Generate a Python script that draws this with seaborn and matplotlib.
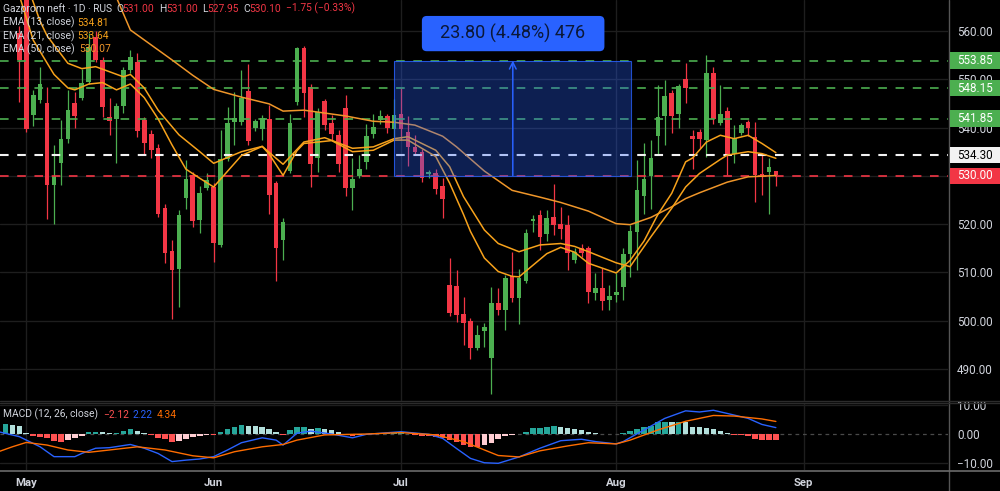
import numpy as np
import pandas as pd
import matplotlib.pyplot as plt
import matplotlib.patches as mpatches
import matplotlib.transforms as mtransforms
from matplotlib.lines import Line2D
import seaborn as sns

sns.set_theme(style="dark")
plt.rcParams["font.family"] = ["Roboto", "DejaVu Sans"]

W, H = 1000, 491

## DATA (bar index, -2 .. 109)
bar = list(range(-2, 110))
opens = [576.0, 571.0, 559.5, 568.0, 542.6, 545.8, 545.0, 528.2, 532.7, 537.6,
         545.1, 546.2, 549.5, 558.7, 553.9, 542.2, 541.7, 544.4, 552.0, 553.6,
         541.5, 538.6, 535.7, 523.4, 514.5, 510.8, 525.5, 530.1, 520.8, 527.4,
         527.7, 515.7, 533.4, 541.2, 541.2, 547.5, 539.9, 539.8, 541.7, 528.6,
         516.8, 531.0, 545.3, 556.4, 548.4, 533.8, 545.5, 541.0, 538.4, 544.0,
         527.5, 530.0, 532.9, 538.6, 541.5, 542.4, 539.8, 542.8, 539.1, 536.0,
         535.0, 530.3, 530.5, 527.9, 507.4, 507.3, 501.4, 499.9, 494.4, 497.8,
         492.3, 503.6, 502.3, 509.2, 504.8, 508.2, 520.7, 521.9, 517.9, 521.5,
         520.1, 519.8, 512.5, 515.1, 515.0, 505.8, 506.8, 504.3, 505.3, 507.0,
         513.8, 518.4, 525.9, 530.0, 538.3, 542.4, 547.1, 542.8, 550.0, 538.3,
         539.0, 537.5, 551.3, 541.0, 543.5, 534.6, 538.9, 541.2, 538.1, 530.4,
         530.8, 531.0]
highs = [578.0, 573.0, 561.0, 570.0, 547.7, 552.6, 548.4, 536.4, 541.5, 547.7,
         547.4, 552.2, 559.5, 560.0, 554.5, 546.1, 545.0, 552.5, 556.0, 555.5,
         542.2, 539.5, 536.5, 524.1, 516.7, 523.0, 533.3, 530.8, 528.0, 530.5,
         528.5, 539.5, 544.3, 547.4, 552.0, 553.1, 541.8, 542.5, 544.6, 529.0,
         521.2, 542.9, 556.7, 556.9, 549.0, 544.0, 546.0, 542.6, 539.5, 546.7,
         533.6, 534.3, 540.8, 542.9, 543.6, 542.9, 546.0, 548.1, 542.4, 538.5,
         535.5, 531.2, 531.5, 529.5, 513.1, 510.5, 505.0, 500.5, 499.1, 499.5,
         507.0, 506.7, 509.5, 514.3, 510.8, 519.1, 521.9, 522.9, 522.9, 528.4,
         523.5, 521.9, 515.0, 515.8, 515.5, 509.9, 511.0, 507.4, 509.8, 515.0,
         519.8, 533.3, 536.8, 537.4, 548.8, 549.8, 547.8, 549.0, 553.3, 539.5,
         539.6, 555.0, 552.6, 548.8, 544.3, 540.5, 541.0, 541.5, 541.2, 534.6,
         533.6, 531.0]
lows = [569.0, 567.0, 545.3, 539.1, 540.3, 545.0, 521.0, 520.1, 528.2, 536.7,
        540.0, 545.7, 549.0, 553.5, 542.2, 538.4, 532.6, 543.0, 551.2, 538.1,
        534.6, 533.6, 521.5, 512.0, 500.3, 502.9, 523.2, 519.5, 518.2, 527.0,
        512.2, 515.2, 533.0, 536.4, 540.5, 536.4, 539.2, 537.4, 522.2, 508.3,
        512.5, 530.5, 544.6, 542.2, 527.7, 530.8, 539.5, 537.5, 530.8, 525.8,
        522.9, 529.5, 531.5, 537.8, 540.8, 538.9, 538.1, 537.4, 532.0, 534.6,
        528.8, 529.6, 526.2, 521.3, 501.0, 499.8, 494.9, 492.0, 494.0, 494.6,
        484.9, 501.2, 498.1, 503.9, 499.4, 507.8, 518.4, 514.6, 516.5, 517.7,
        517.0, 510.5, 512.0, 513.3, 503.6, 504.3, 502.2, 502.2, 503.9, 504.3,
        509.1, 510.5, 522.2, 523.2, 534.6, 536.4, 538.9, 540.0, 545.0, 531.5,
        535.7, 533.9, 540.8, 540.5, 530.1, 532.6, 538.5, 538.2, 524.6, 526.0,
        522.1, 527.95]
closes = [571.0, 569.0, 554.0, 539.8, 546.7, 549.1, 528.2, 529.9, 537.6, 543.7,
          542.4, 549.2, 556.6, 553.9, 544.3, 541.4, 544.4, 551.9, 554.5, 539.3,
          536.9, 535.3, 522.2, 514.1, 510.6, 522.0, 529.3, 520.7, 526.5, 529.1,
          516.0, 533.4, 541.0, 541.9, 546.2, 537.2, 541.3, 541.9, 526.1, 515.1,
          520.5, 541.0, 556.4, 547.2, 532.4, 543.3, 540.5, 538.6, 532.4, 527.5,
          529.3, 531.5, 538.3, 540.1, 542.4, 539.9, 542.6, 539.6, 536.0, 535.0,
          529.5, 530.8, 527.2, 525.3, 501.6, 501.2, 499.6, 494.4, 497.0, 498.8,
          503.6, 502.3, 508.9, 504.8, 508.9, 518.2, 521.1, 517.4, 521.3, 519.8,
          519.1, 514.1, 514.3, 514.1, 506.0, 506.7, 504.1, 505.2, 506.0, 513.8,
          518.6, 527.0, 529.3, 533.6, 542.2, 546.5, 542.4, 548.6, 548.1, 537.6,
          537.6, 551.3, 541.7, 542.8, 534.6, 537.9, 540.5, 540.0, 530.1, 530.0,
          531.9, 530.10]

month_bars = [1, 28, 55, 86, 113]
month_labels = ["May", "Jun", "Jul", "Aug", "Sep"]

# EMA lines at sample bars
e13_bar = [-1, 2, 5, 7, 8, 10, 12, 14, 16, 18, 20, 22, 24, 26, 28, 32, 35, 36, 38, 40,
           41, 45, 48, 51, 54, 56, 60, 62, 64, 65, 67, 69, 71, 72, 74, 76, 78, 80, 82, 86,
           88, 90, 92, 94, 96, 97, 99, 101, 103, 105, 107, 109]
e13_val = [572.0, 558.1, 551.0, 548.2, 547.8, 549.0, 549.3, 547.8, 549.0, 546.2,
           541.8, 536.4, 531.4, 529.5, 527.7, 534.2, 536.1, 534.5, 530.1, 535.2,
           536.7, 537.3, 535.0, 535.3, 537.4, 537.4, 534.0, 528.5, 522.0, 518.5,
           513.0, 510.2, 509.2, 509.1, 511.5, 513.9, 515.2, 514.2, 511.9, 509.9,
           512.5, 516.5, 522.0, 526.4, 532.9, 533.7, 537.0, 538.4, 537.7, 538.4,
           536.7, 534.81]
e21_bar = [1, 3, 4, 7, 9, 11, 15, 16, 18, 20, 23, 26, 28, 32, 35, 38, 41, 44, 48, 51,
           54, 56, 60, 62, 64, 67, 69, 72, 75, 78, 80, 82, 86, 88, 91, 94, 96, 98, 101,
           102, 105, 107, 109]
e21_val = [570.0, 562.0, 559.0, 553.3, 552.2, 552.6, 550.5, 551.0, 548.2, 543.6,
           538.5, 535.0, 532.6, 535.0, 536.1, 532.4, 537.0, 537.9, 535.7, 536.0,
           537.7, 538.1, 535.3, 531.9, 525.7, 518.8, 516.0, 514.3, 515.7, 516.0,
           515.4, 514.3, 512.0, 511.2, 517.4, 523.3, 527.7, 530.5, 533.4, 534.3,
           535.0, 534.6, 533.64]
e50_bar = [12, 14, 16, 22, 25, 28, 32, 36, 38, 41, 44, 47, 51, 54, 57, 61, 63, 67, 71,
           75, 78, 82, 86, 88, 91, 94, 96, 98, 102, 105, 109]
e50_val = [571.0, 566.9, 560.2, 554.0, 550.8, 547.9, 546.3, 544.9, 543.4, 543.6,
           543.0, 542.4, 541.3, 541.1, 540.5, 538.2, 536.0, 531.0, 527.0, 525.6,
           524.5, 522.7, 520.1, 519.9, 521.4, 523.6, 525.3, 526.5, 528.7, 529.8,
           530.07]

# MACD panel
hist = [3.6, 3.2, 2.8, 0.5, -0.6, -1.0, -1.5, -2.4, -2.9, -2.1,
        -1.5, -0.7, 0.6, 0.8, 0.6, 0.4, 0.5, 1.0, 1.6, 0.9,
        0.3, -0.3, -1.3, -1.8, -2.9, -2.3, -1.6, -1.1, -0.7, -0.3,
        -0.4, 0.8, 1.6, 2.3, 3.1, 2.9, 2.8, 2.3, 1.6, 0.6,
        -0.2, 1.4, 2.3, 2.5, 1.9, 2.0, 1.6, 1.4, 0.8, -0.3,
        -0.6, -0.5, 0.1, 0.3, 0.5, 0.5, 0.6, 0.6, -0.1, -0.3,
        -0.6, -0.8, -1.0, -1.3, -2.1, -2.9, -3.8, -4.4, -4.4, -3.8,
        -3.2, -1.8, -0.8, -0.3, 0.1, 0.8, 2.0, 2.2, 2.5, 2.6,
        2.5, 2.0, 1.6, 1.5, 0.6, 0.2, -0.1, -0.1, -0.1, 0.3,
        1.0, 1.7, 2.4, 2.9, 4.0, 4.3, 4.2, 4.3, 4.0, 2.5,
        2.3, 2.2, 1.6, 1.0, 0.2, -0.3, -0.3, -0.6, -1.8, -2.1,
        -2.1, -2.12]
macd_bar = [-3, 0, 3, 5, 8, 9, 11, 13, 16, 18, 20, 22, 24, 26, 28, 30, 32, 35, 37, 38,
            39, 40, 42, 45, 48, 50, 55, 59, 61, 63, 65, 67, 69, 72, 75, 78, 81, 83, 86,
            87, 90, 93, 96, 98, 100, 102, 105, 107, 109]
macd_val = [0.8, -0.9, -4.4, -7.8, -7.8, -6.7, -4.9, -4.7, -3.6, -4.9, -6.7, -9.5,
            -9.0, -8.6, -7.8, -5.5, -3.0, -1.3, -2.1, -3.8, -1.8, 0.3, 1.0, 0.0, -1.3,
            -0.1, 0.8, -0.1, -1.5, -5.0, -8.4, -9.9, -10.1, -7.9, -4.9, -2.3, -1.8,
            -2.6, -3.4, -2.6, 1.4, 5.4, 8.0, 7.6, 8.2, 7.1, 5.4, 3.3, 2.22]
sig_bar = [-3, -1, 1, 4, 7, 10, 13, 17, 21, 25, 28, 31, 35, 38, 40, 44, 50, 55, 60, 64,
           69, 72, 75, 79, 82, 86, 88, 92, 96, 100, 103, 107, 109]
sig_val = [-6.1, -4.4, -2.9, -3.8, -5.5, -6.3, -5.5, -4.4, -5.5, -7.5, -8.2, -6.1,
           -4.4, -3.6, -2.1, -0.3, 0.0, 0.5, -0.3, -2.6, -7.4, -7.9, -5.8, -4.1,
           -3.0, -3.4, -2.1, 1.4, 4.4, 6.4, 6.2, 5.2, 4.34]

# drawn price levels and the price-range measurement
levels = [553.85, 548.15, 541.85, 534.30, 530.00]
level_kind = ["green", "green", "green", "white", "red"]
measure_from, measure_to = 54.0, 88.2
measure_low, measure_high = 530.05, 553.85
measure_label = "23.80 (4.48%) 476"

assert len(opens) == len(highs) == len(lows) == len(closes) == len(bar) == len(hist)

## STYLE
BG = "black"
GRID = "#1e1e1e"
TXT = "#d1d4dc"
UP, DOWN = "#4caf50", "#f23645"
ORANGE, ORANGE50 = "#f7a21b", "#ef962a"
LEVEL_COL = {"green": "#4caf50", "white": "#f2f2f2", "red": "#f23645"}
LEVEL_TXT = {"green": "white", "white": "black", "red": "white"}

df = pd.DataFrame({"bar": bar, "open": opens, "high": highs, "low": lows, "close": closes})
df["color"] = np.where(df["close"] >= df["open"], UP, DOWN)

fig = plt.figure(figsize=(W / 100, H / 100), dpi=100)
fig.patch.set_facecolor(BG)
ax = fig.add_axes([0, 1 - 401 / H, 948 / W, 401 / H])
ax2 = fig.add_axes([0, 1 - 470 / H, 948 / W, 67 / H])

for a in (ax, ax2):
    a.set_facecolor(BG)
    for s in a.spines.values():
        s.set_visible(False)
    a.set_xlim(-2.78, 133.8)
    a.set_xticks(month_bars)
    a.grid(axis="x", color=GRID, linewidth=1)

## PRICE PANEL
ax.set_ylim(483.4, 566.4)
ax.set_yticks(range(490, 561, 10))
ax.yaxis.set_major_formatter(lambda v, p: f"{v:.2f}")
ax.grid(axis="y", color=GRID, linewidth=1)
ax.yaxis.tick_right()
ax.tick_params(axis="y", length=0, pad=6.5, labelsize=8.4, labelcolor=TXT)
ax.tick_params(axis="x", length=0, labelbottom=False)

ax.vlines(df["bar"], df["low"], df["high"], colors=df["color"], linewidth=0.9, zorder=2)
body = (df["close"] - df["open"]).abs().clip(lower=0.25)
ax.bar(df["bar"], body, bottom=df[["open", "close"]].min(axis=1), width=0.68,
       color=df["color"], linewidth=0, zorder=2)

for lvl, kind in zip(levels, level_kind):
    lw = 1.5 if kind == "white" else 1.2
    ax.axhline(lvl, color=LEVEL_COL[kind], lw=lw, dashes=(6.2 / lw, 6.2 / lw), zorder=3)

sns.lineplot(x=e50_bar, y=e50_val, ax=ax, color=ORANGE50, linewidth=1.1, zorder=4)
sns.lineplot(x=e21_bar, y=e21_val, ax=ax, color=ORANGE, linewidth=1.1, zorder=4)
sns.lineplot(x=e13_bar, y=e13_val, ax=ax, color=ORANGE, linewidth=1.1, zorder=4)

# measurement box
ax.add_patch(mpatches.Rectangle((measure_from, measure_low), measure_to - measure_from,
                                measure_high - measure_low, facecolor="#2962ff", alpha=0.32,
                                edgecolor="none", zorder=6))
ax.add_patch(mpatches.Rectangle((measure_from, measure_low), measure_to - measure_from,
                                measure_high - measure_low, facecolor="none",
                                edgecolor="#2962ff", lw=0.8, alpha=0.8, zorder=6))
mid = (measure_from + measure_to) / 2
ax.annotate("", xy=(mid, measure_high), xytext=(mid, measure_low),
            arrowprops=dict(arrowstyle="->", color="#2962ff", lw=1.1, shrinkA=0, shrinkB=0),
            zorder=7)
ax.add_patch(mpatches.FancyBboxPatch((58.0, 555.8), 26.3, 7.3,
                                     boxstyle="round,pad=0,rounding_size=0.7",
                                     mutation_aspect=1.44, facecolor="#2962ff",
                                     edgecolor="none", zorder=7))
ax.text(mid, 559.45, measure_label, ha="center", va="center", fontsize=13,
        color="#0b1838", zorder=8)

# price labels on the axis (they sit over the tick labels, as in the app)
blend = mtransforms.blended_transform_factory(fig.transFigure, ax.transData)
for lvl, kind in zip(levels, level_kind):
    fig.add_artist(mpatches.Rectangle((950 / W, lvl - 1.7), 50 / W, 3.4, transform=blend,
                                      facecolor=LEVEL_COL[kind], edgecolor="none", zorder=5))
    fig.text(957 / W, lvl, f"{lvl:.2f}", transform=blend, ha="left", va="center",
             fontsize=8.4, color=LEVEL_TXT[kind], zorder=6)

## MACD PANEL
h = np.array(hist)
prev = np.r_[h[0], h[:-1]]
hcol = np.where(h >= 0, np.where(h >= prev, "#26a69a", "#b2dfdb"),
                np.where(h <= prev, "#ff5252", "#ffcdd2"))
ax2.set_ylim(-12.4, 10.7)
ax2.axhline(10, color=GRID, lw=1)
ax2.axhline(-10, color=GRID, lw=1)
ax2.axhline(0, color="#4a4a4a", lw=0.9, dashes=(3, 3))
ax2.bar(bar, h, width=0.8, color=hcol, linewidth=0, zorder=2)
sns.lineplot(x=macd_bar, y=macd_val, ax=ax2, color="#2962ff", linewidth=1.0, zorder=3)
sns.lineplot(x=sig_bar, y=sig_val, ax=ax2, color="#ff6d00", linewidth=1.0, zorder=3)
ax2.set_yticks([-10, 0, 10])
ax2.yaxis.set_major_formatter(lambda v, p: f"{v:.2f}".replace("-", "\u2212"))
ax2.yaxis.tick_right()
ax2.tick_params(axis="y", length=0, pad=6.5, labelsize=8.4, labelcolor=TXT)
ax2.set_xticklabels(month_labels)
ax2.tick_params(axis="x", length=0, pad=5.5, labelsize=8.2, labelcolor=TXT)
for t in ax2.get_xticklabels():
    t.set_fontweight("bold")
ax.set_xlabel("")
ax2.set_xlabel("")

## SEPARATORS
fig.add_artist(Line2D([948.5 / W] * 2, [0, 1], color="#555555", lw=1))
fig.add_artist(Line2D([0, 1], [1 - 400.5 / H] * 2, color="#2c2c2c", lw=1))
fig.add_artist(Line2D([0, 1], [1 - 403 / H] * 2, color="#2c2c2c", lw=1))
fig.add_artist(Line2D([0, 1], [1 - 470.5 / H] * 2, color="#6a6a6a", lw=1.2))


## LEGENDS
def ftext(x, y, s, color, size=7.4):
    fig.text(x / W, 1 - y / H, s, color=color, fontsize=size, ha="left", va="center", zorder=9)


ftext(3, 8.5, "Gazprom neft \u00b7 1D \u00b7 RUS", TXT)
for x, s, c in [(116, "O", TXT), (122.5, "531.00", DOWN), (159, "H", TXT), (166, "531.00", DOWN),
                (202, "L", TXT), (207.5, "527.95", DOWN), (243, "C", TXT), (249.5, "530.10", DOWN),
                (286, "\u22121.75 (\u22120.33%)", DOWN)]:
    ftext(x, 8.5, s, c)
ftext(3, 22.5, "EMA (13, close)", TXT)
ftext(77.5, 22.5, "534.81", ORANGE)
ftext(3, 36, "EMA (21, close)", TXT)
ftext(77.5, 36, "533.64", ORANGE)
ftext(3, 49.5, "EMA (50, close)", TXT)
ftext(79, 49.5, "530.07", ORANGE50)
ftext(3, 414.5, "MACD (12, 26, close)", TXT)
ftext(103, 414.5, "\u22122.12", "#ff5252")
ftext(132.5, 414.5, "2.22", "#2962ff")
ftext(157, 414.5, "4.34", "#ff6d00")

fig.savefig("out.png", dpi=100, facecolor=BG)
